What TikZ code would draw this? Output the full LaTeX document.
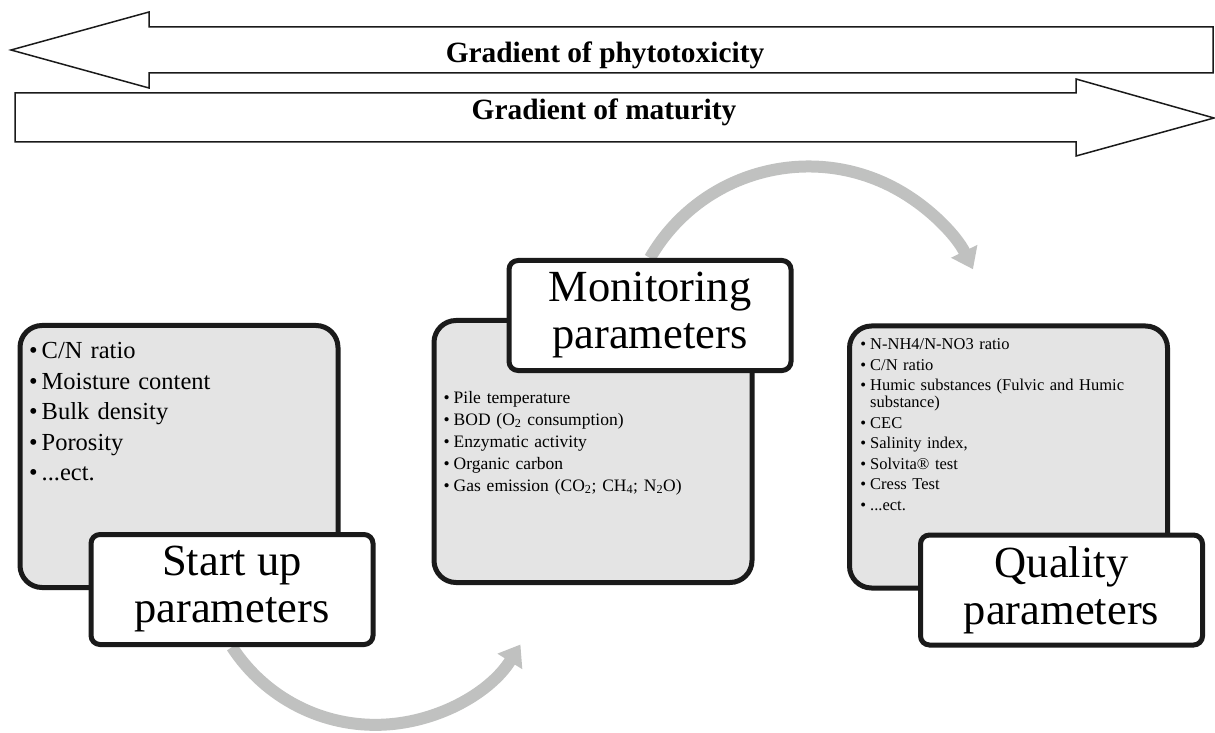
\documentclass[tikz,border=0pt]{standalone}
\usepackage{fontspec}
\setmainfont{Liberation Serif}
\usepackage{enumitem}
\usepackage{tikz}
\usetikzlibrary{arrows.meta,positioning,backgrounds}
\definecolor{ink}{HTML}{1A1A1A}
\definecolor{shade}{HTML}{E4E4E4}
\definecolor{flowgray}{HTML}{C0C1C0}
\setlist[itemize]{label=\textbullet,topsep=0pt,partopsep=0pt,parsep=0pt,itemsep=0pt,labelsep=4pt}
\tikzset{panel/.style={draw=ink,fill=shade,line width=5pt,rounded corners=22pt,minimum width=318pt,minimum height=262pt},tag/.style={draw=ink,fill=white,line width=5pt,rounded corners=9pt,minimum width=282pt,minimum height=110pt,align=center,font=\fontsize{44.5}{47}\selectfont},items/.style={anchor=north west,inner sep=0pt,text width=280pt,align=left},grad/.style={draw=ink,fill=white,line width=1.5pt},gradtxt/.style={anchor=base,font=\fontsize{29.4}{31}\selectfont\bfseries},flow/.style={draw=flowgray,line width=12pt,-{Triangle[length=20pt,width=28pt]}}}

\begin{document}
\begin{tikzpicture}[x=1pt,y=1pt]
\useasboundingbox (0,0) rectangle (1215,732);
\draw[grad] (11,682)--(149,720)--(149,705)--(1213,705)--(1213,659)--(149,659)--(149,644)--cycle;
\draw[grad] (15,639)--(1076,639)--(1076,653)--(1214,614)--(1076,576)--(1076,590)--(15,590)--cycle;
\node[gradtxt] (phyto) at (605,669) {Gradient of phytotoxicity};
\node[gradtxt] (matur) at (604,612) {Gradient of maturity};
\node[panel] (sbox) at (179,275.5) {};
\node[panel] (mbox) at (593,280.5) {};
\node[panel] (qbox) at (1008.5,275) {};
\node[items,font=\fontsize{24.5}{30.5}\selectfont] (slist) at ([shift={(11,-5)}]sbox.north west) {\begin{itemize}[leftmargin=13pt]
\item C/N ratio
\item Moisture content
\item Bulk density
\item Porosity
\item ...ect.
\end{itemize}};
\node[items,font=\fontsize{17.5}{22}\selectfont] (mlist) at ([shift={(11,-63)}]mbox.north west) {\begin{itemize}[leftmargin=11pt]
\item Pile temperature
\item BOD (O\textsubscript{2} consumption)
\item Enzymatic activity
\item Organic carbon
\item Gas emission (CO\textsubscript{2}; CH\textsubscript{4}; N\textsubscript{2}O)
\end{itemize}};
\node[items,font=\fontsize{16.5}{17}\selectfont] (qlist) at ([shift={(13,-9)}]qbox.north west) {\begin{itemize}[leftmargin=10pt,itemsep=3.5pt]
\item N-NH4/N-NO3 ratio
\item C/N ratio
\item Humic substances (Fulvic and Humic substance)
\item CEC
\item Salinity index,
\item Solvita® test
\item Cress Test
\item ...ect.
\end{itemize}};
\node[tag,anchor=south east] (slabel) at ([shift={(35,-57)}]sbox.south east) {Start up\\parameters};
\node[tag,anchor=north east] (mlabel) at ([shift={(39,60)}]mbox.north east) {Monitoring\\parameters};
\node[tag,anchor=south east] (qlabel) at ([shift={(35,-57)}]qbox.south east) {Quality\\parameters};
\begin{scope}[on background layer]
\draw[flow] (slabel.south) arc[start angle=213,end angle=328,radius=171];
\draw[flow] (mlabel.north) arc[start angle=150,end angle=26,radius=183];
\end{scope}
\end{tikzpicture}
\end{document}
